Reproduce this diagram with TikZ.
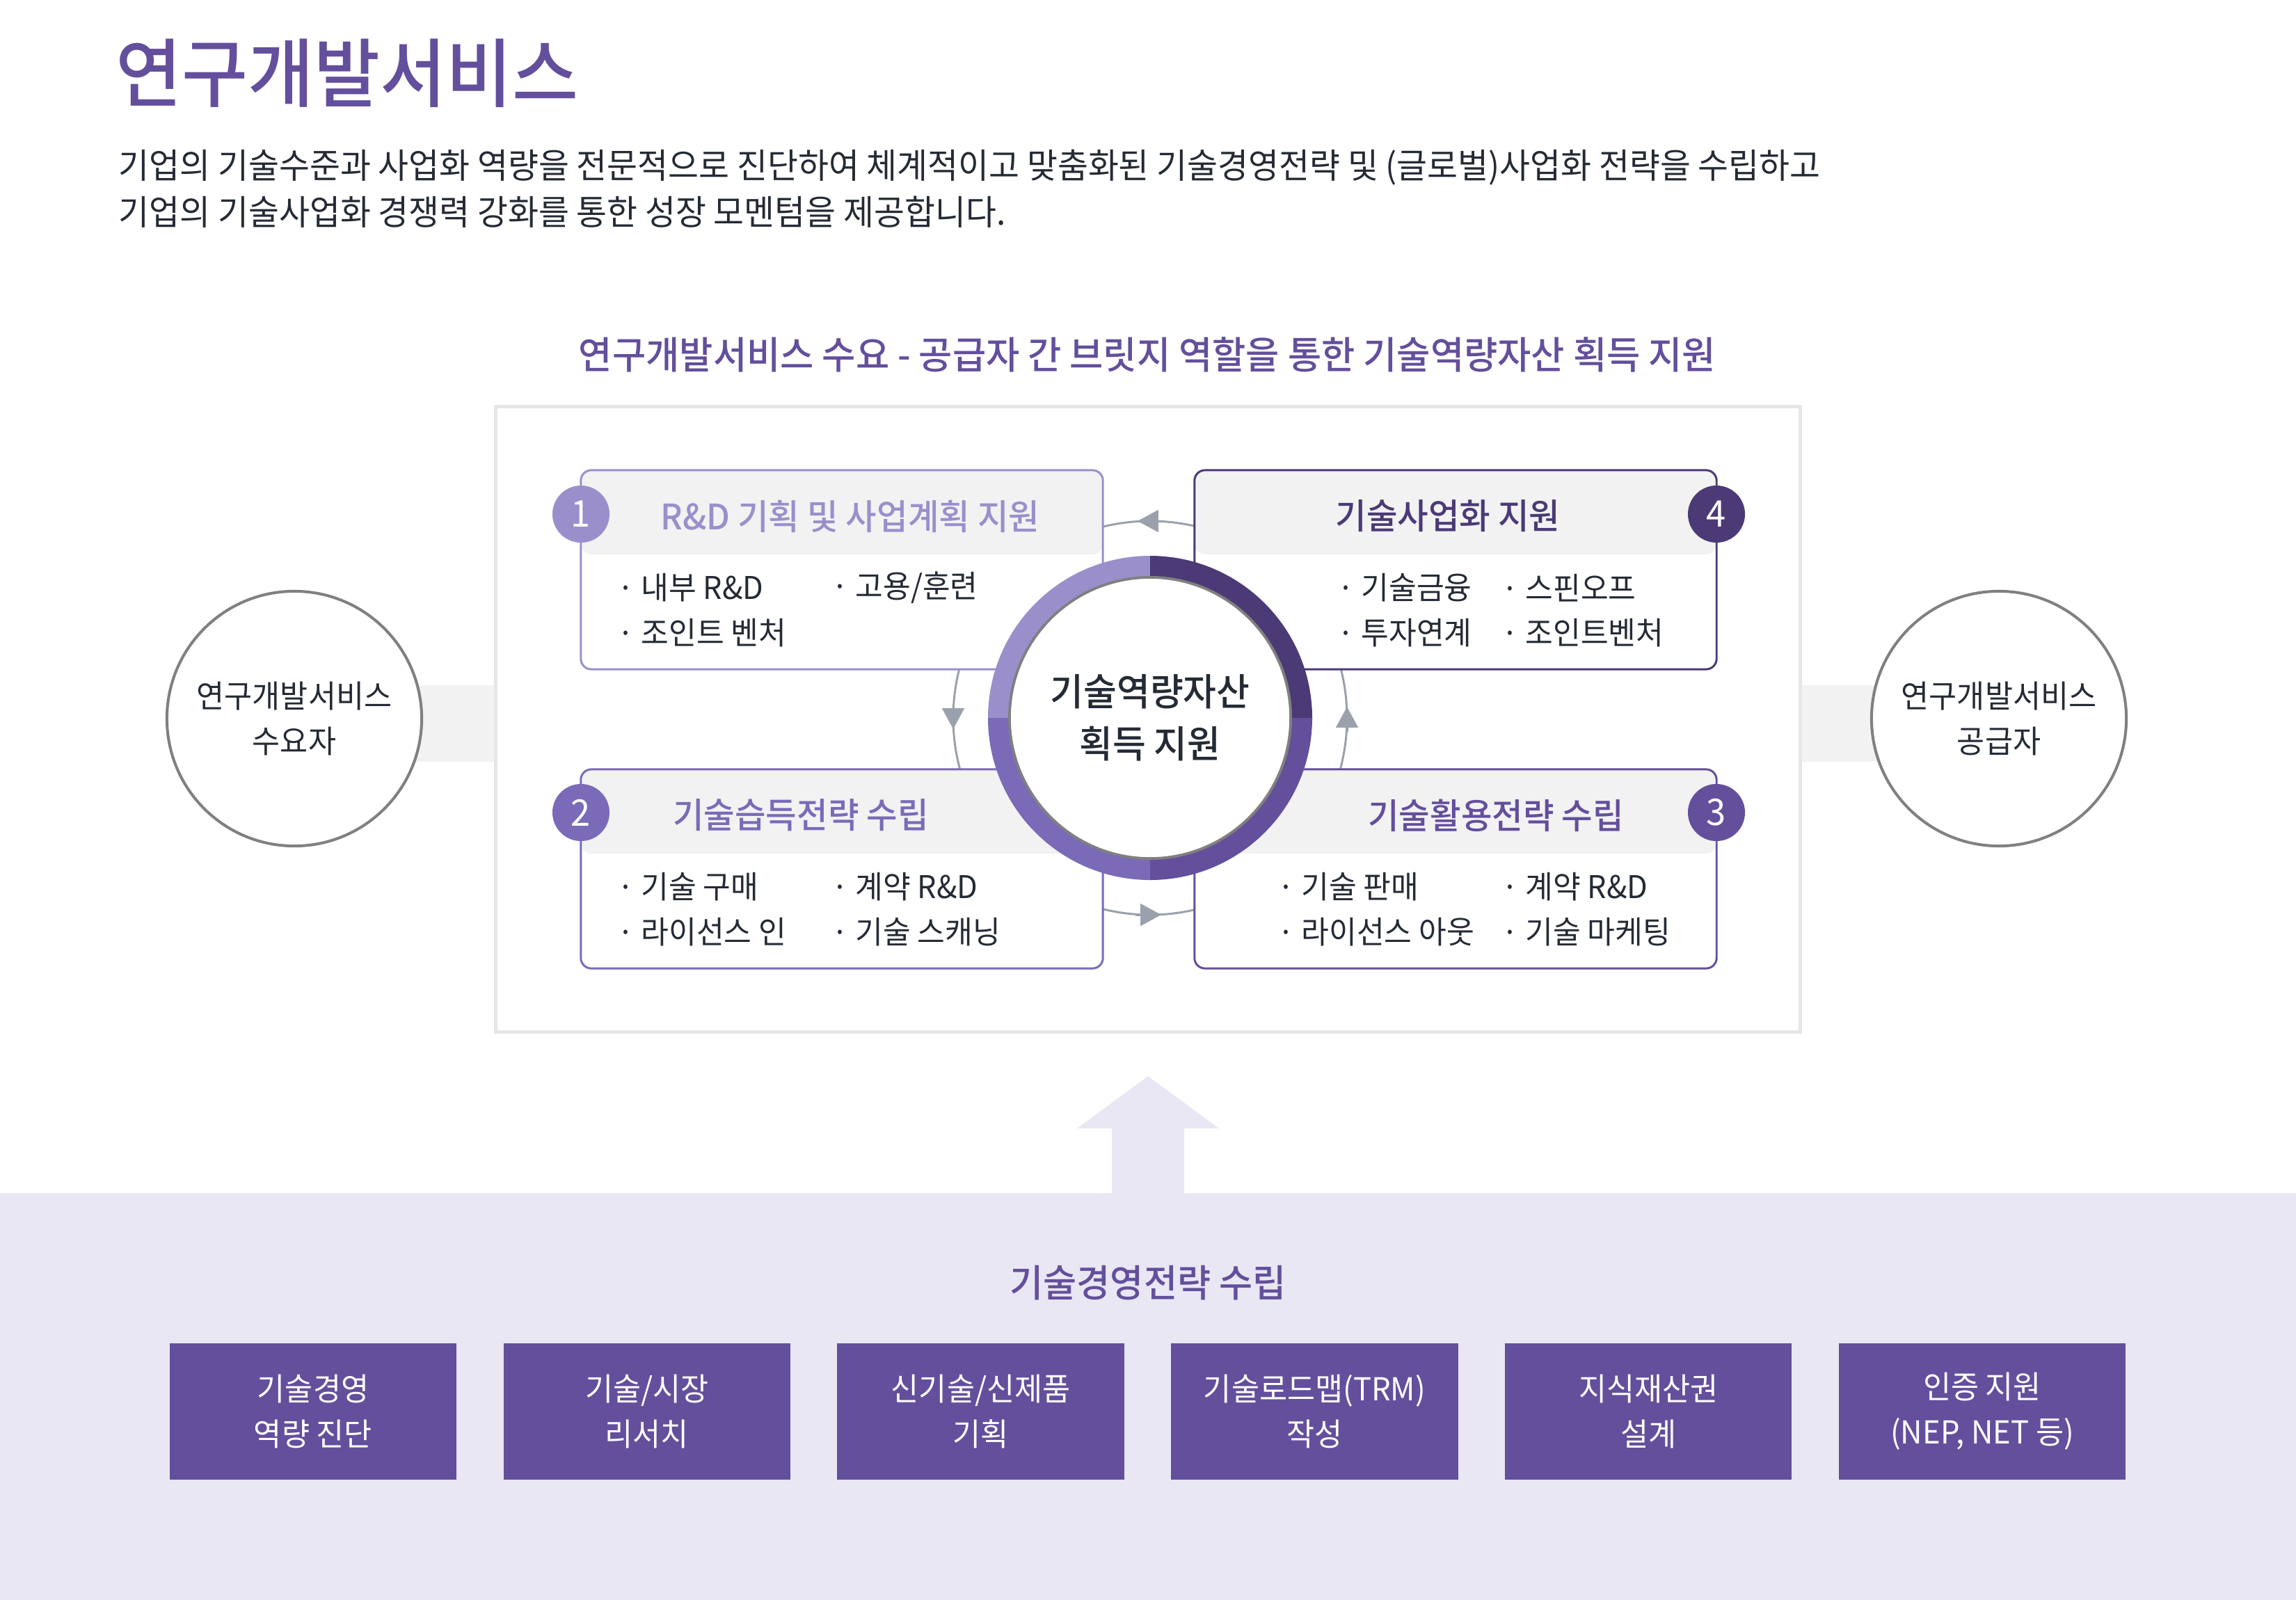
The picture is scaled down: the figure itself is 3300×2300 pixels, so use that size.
\documentclass[tikz,border=0pt]{standalone}
\usepackage{fontspec}
\setmainfont{Noto Sans CJK KR}[FakeStretch=0.96]
\newfontfamily\krmed{Noto Sans CJK KR Medium}[FakeStretch=0.96]
\usepackage{xcolor}
\usetikzlibrary{arrows.meta, backgrounds}
\definecolor{RndLight}{HTML}{9B8FCB}
\definecolor{RndMid}{HTML}{7B6AB8}
\definecolor{RndDeep}{HTML}{634F9C}
\definecolor{RndDark}{HTML}{4B3A76}
\definecolor{InkGray}{HTML}{252B35}
\definecolor{HeadGray}{HTML}{F2F2F2}
\definecolor{FrameGray}{HTML}{E6E6E6}
\definecolor{RimGray}{HTML}{808080}
\definecolor{ArcGray}{HTML}{9AA1AC}
\definecolor{Lavender}{HTML}{E9E7F4}
\newcommand{\setsz}[2]{\fontsize{#1}{#2}\selectfont}

\begin{document}
\begin{tikzpicture}[
    x=0.01cm, y=-0.01cm,
    every node/.style={inner sep=0pt, text=InkGray},
    card/.style={rectangle, rounded corners=4.3pt, line width=0.85pt, draw=#1, fill=white, minimum width=7.5cm, minimum height=2.86cm,
        path picture={\fill[HeadGray] (path picture bounding box.north west) rectangle ([yshift=-1.21cm]path picture bounding box.north east);}},
    cardtitle/.style={font=\krmed\setsz{14.35pt}{18pt}, text=#1},
    item/.style={anchor=west, font=\setsz{12.8pt}{17pt}},
    badge/.style={circle, fill=#1, minimum size=0.82cm, text=white, font=\setsz{15pt}{18pt}},
    party/.style={circle, draw=RimGray, line width=1.15pt, fill=white, minimum size=3.66cm, align=center, font=\setsz{12.9pt}{18.5pt}},
    bridge/.style={draw=HeadGray, line width=1.1cm},
    cyc/.style={draw=ArcGray, line width=0.85pt},
    cyctip/.style={cyc, -{Triangle[length=8.5pt, width=9pt]}},
    task/.style={rectangle, fill=RndDeep, minimum width=4.12cm, minimum height=1.96cm, align=center, text=white, font=\setsz{12.9pt}{18.5pt}}
]
\useasboundingbox (0,0) rectangle (3300,2300);

\node[anchor=west, font=\krmed\setsz{30.6pt}{36pt}, text=RndDeep] (title) at (166,105) {연구개발서비스};
\node[anchor=west, align=left, font=\setsz{14.15pt}{19pt}] (lead) at (170,271) {기업의 기술수준과 사업화 역량을 전문적으로 진단하여 체계적이고 맞춤화된 기술경영전략 및 (글로벌)사업화 전략을 수립하고\\기업의 기술사업화 경쟁력 강화를 통한 성장 모멘텀을 제공합니다.};
\node[font=\krmed\setsz{15.55pt}{18pt}, text=RndDeep] (bridgehead) at (1649,510) {연구개발서비스 수요 - 공급자 간 브릿지 역할을 통한 기술역량자산 획득 지원};

\node[draw=FrameGray, line width=1.3pt, fill=white, minimum width=18.74cm, minimum height=8.99cm] (frame) at (1650,1034) {};
\node[party] (dem) at (423,1033) {연구개발서비스\\수요자};
\node[party] (sup) at (2873,1033) {연구개발서비스\\공급자};
\coordinate (dl) at (423,1040);
\coordinate (sl) at (2873,1040);
\begin{scope}[on background layer]
\draw[bridge] (dl) -- (dl -| frame.west);
\draw[bridge] (sl) -- (sl -| frame.east);
\end{scope}

\coordinate (core) at (1653,1032);
\draw[cyc] (core) circle[radius=283];

\node[card=RndLight] (b1) at (1210,819) {};
\node[card=RndDark] (b4) at (2092,819) {};
\node[card=RndMid] (b2) at (1210,1249) {};
\node[card=RndDeep] (b3) at (2092,1249) {};

\node[cardtitle=RndLight] (t1) at (1222,742) {R\&D 기획 및 사업계획 지원};
\node[cardtitle=RndDark] (t4) at (2081,742) {기술사업화 지원};
\node[cardtitle=RndMid] (t2) at (1151,1172) {기술습득전략 수립};
\node[cardtitle=RndDeep] (t3) at (2150,1172) {기술활용전략 수립};

\foreach \n/\x/\y/\txt in {a1/887/845/{내부 R\&D}, a2/1195/845/{고용/훈련}, a3/887/910/{조인트 벤처},
    d1/1922/845/{기술금융}, d2/2158/845/{스핀오프}, d3/1922/910/{투자연계}, d4/2158/910/{조인트벤처},
    b1/887/1275/{기술 구매}, b2/1195/1275/{계약 R\&D}, b3/887/1340/{라이선스 인}, b4/1195/1340/{기술 스캐닝},
    c1/1836/1275/{기술 판매}, c2/2158/1275/{계약 R\&D}, c3/1836/1340/{라이선스 아웃}, c4/2158/1340/{기술 마케팅}}
    {\node[item] (i\n) at (\x,\y) {· \txt};}

\foreach \a/\c in {180/RndLight, 270/RndDark, 0/RndDeep, 90/RndMid}
    {\fill[\c] (core) -- ++(\a:233) arc[start angle=\a, delta angle=90, radius=233] -- cycle;}
\node[circle, fill=white, draw=RimGray, line width=1.1pt, minimum size=4.04cm, align=center, font=\krmed\setsz{15.4pt}{21.3pt}] (hub) at (core) {기술역량자산\\획득 지원};

\node[badge=RndLight] (n1) at (835,739) {1};
\node[badge=RndMid] (n2) at (835,1168) {2};
\node[badge=RndDeep] (n3) at (2467,1168) {3};
\node[badge=RndDark] (n4) at (2467,739) {4};

\foreach \p/\q in {{(1672,749)}/{(1635,749)}, {(1370,1012)}/{(1370,1048)}, {(1632,1315)}/{(1669,1315)}, {(1936,1052)}/{(1936,1016)}}
    {\draw[cyctip] \p -- \q;}

\fill[Lavender] (0,1715) rectangle (3300,2300);
\fill[Lavender] (1598,1717) -- (1598,1622) -- (1548,1622) -- (1650,1547) -- (1752,1622) -- (1702,1622) -- (1702,1717) -- cycle;
\node[font=\krmed\setsz{15.5pt}{18pt}, text=RndDeep] (planhead) at (1650,1844) {기술경영전략 수립};

\foreach \txt [count=\k from 0] in {{기술경영\\역량 진단}, {기술/시장\\리서치}, {신기술/신제품\\기획}, {기술로드맵(TRM)\\작성}, {지식재산권\\설계}, {인증 지원\\(NEP, NET 등)}}
    {\node[task] (s\k) at (450+479.8*\k,2029) {\txt};}

\end{tikzpicture}
\end{document}
